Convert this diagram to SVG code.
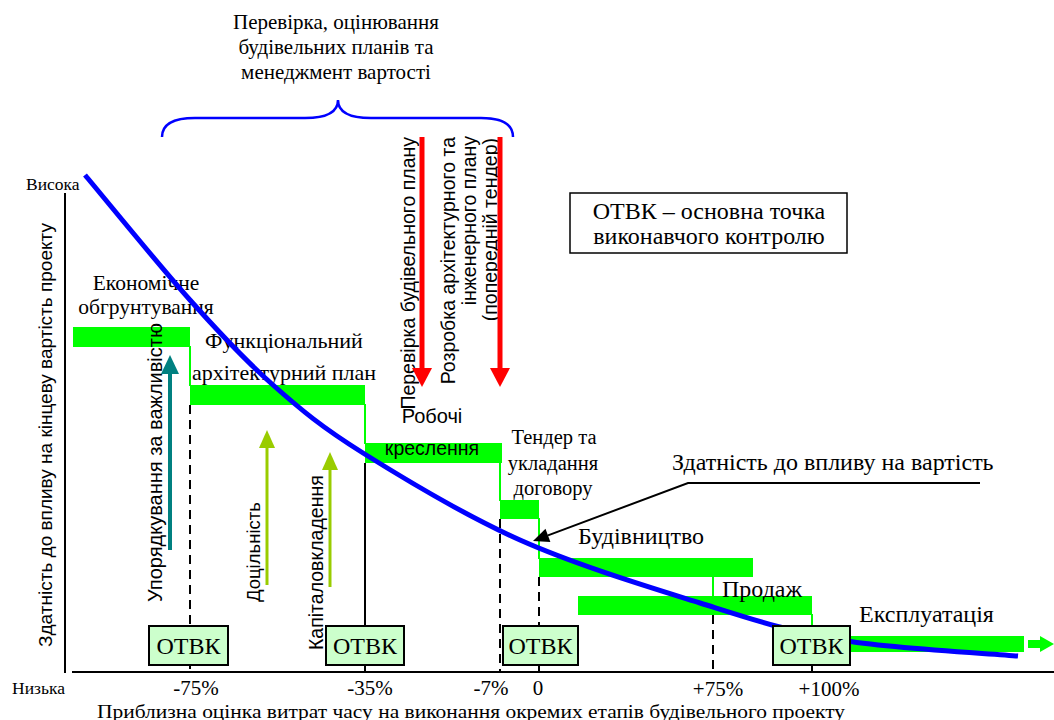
<svg xmlns="http://www.w3.org/2000/svg" width="1054" height="720" viewBox="0 0 1054 720">
<style>
.s{font-family:"Liberation Serif","Times New Roman",serif;fill:#000}
.a{font-family:"Liberation Sans",Arial,sans-serif;fill:#000}
.bar{fill:#00FF00}
.gl{stroke:#00FF00;stroke-width:2;fill:none}
.dash{stroke:#000;stroke-width:2;stroke-dasharray:9,6;fill:none}
.sol{stroke:#000;stroke-width:2;fill:none}
.box{fill:#CCFFCC;stroke:#000;stroke-width:2}
.red{stroke:#FF0000;stroke-width:5;fill:none}
</style>
<rect width="1054" height="720" fill="#fff"/>

<g id="axes">
  <line x1="65" y1="193" x2="65" y2="673" class="sol"/>
  <line x1="72" y1="672" x2="1054" y2="672" class="sol"/>
  <text x="26" y="190" class="s" font-size="17.5">Висока</text>
  <text x="12" y="694" class="s" font-size="17.5">Низька</text>
  <text transform="translate(52,435) rotate(-90)" text-anchor="middle" class="a" font-size="19">Здатність до впливу на кінцеву вартість проекту</text>
  <text x="471" y="718" text-anchor="middle" class="s" font-size="18.5" textLength="748" lengthAdjust="spacingAndGlyphs">Приблизна оцінка витрат часу на виконання окремих етапів будівельного проекту</text>
  <g class="s" font-size="21" text-anchor="middle">
    <text x="196" y="695">-75%</text>
    <text x="370" y="695">-35%</text>
    <text x="491" y="695">-7%</text>
    <text x="538" y="695">0</text>
    <text x="718" y="696">+75%</text>
    <text x="829" y="696">+100%</text>
  </g>
</g>

<g id="title">
  <g class="s" font-size="21" text-anchor="middle">
    <text x="336" y="29">Перевірка, оцінювання</text>
    <text x="336" y="54">будівельних планів та</text>
    <text x="336" y="79">менеджмент вартості</text>
  </g>
  <path d="M162,137 Q162,118 195,118 L305,118 Q338,118 338,100 Q338,118 371,118 L481,118 Q513,118 513,137" fill="none" stroke="#0000FF" stroke-width="2.5"/>
</g>

<g id="legend">
  <rect x="570" y="193" width="277" height="60" fill="#fff" stroke="#000" stroke-width="1.5"/>
  <text x="709" y="219" text-anchor="middle" class="s" font-size="24">ОТВК – основна точка</text>
  <text x="709" y="244" text-anchor="middle" class="s" font-size="24">виконавчого контролю</text>
</g>

<g id="guides">
  <line x1="190" y1="405" x2="190" y2="672" class="dash"/>
  <line x1="365" y1="463" x2="365" y2="672" class="sol"/>
  <line x1="500" y1="519" x2="500" y2="672" class="dash"/>
  <line x1="539" y1="577" x2="539" y2="626" class="dash"/>
  <line x1="539" y1="664" x2="539" y2="672" class="sol"/>
  <line x1="713" y1="615" x2="713" y2="672" class="dash"/>
  <line x1="812" y1="664" x2="812" y2="672" class="sol"/>
</g>

<g id="phase-economic">
  <rect x="73" y="327" width="117" height="20" class="bar"/>
  <line x1="190" y1="346" x2="190" y2="386" class="gl"/>
  <text x="146" y="290" text-anchor="middle" class="s" font-size="21.5">Економічне</text>
  <text x="146" y="314" text-anchor="middle" class="s" font-size="21.5">обгрунтування</text>
</g>
<g id="phase-functional">
  <rect x="190" y="385" width="175" height="20" class="bar"/>
  <line x1="365" y1="404" x2="365" y2="444" class="gl"/>
  <text x="284" y="348" text-anchor="middle" class="s" font-size="22">Функціональний</text>
  <text x="284" y="380" text-anchor="middle" class="s" font-size="22">архітектурний план</text>
</g>
<g id="phase-drawings">
  <rect x="365" y="443" width="137" height="20" class="bar"/>
  <line x1="500" y1="462" x2="500" y2="501" class="gl"/>
  <text x="432" y="423" text-anchor="middle" class="a" font-size="20">Робочі</text>
  <text x="432" y="455" text-anchor="middle" class="a" font-size="19.5">креслення</text>
</g>
<g id="phase-tender">
  <rect x="500" y="500" width="39" height="19" class="bar"/>
  <line x1="539" y1="518" x2="539" y2="559" class="gl"/>
  <text x="554" y="444" text-anchor="middle" class="s" font-size="20.5">Тендер та</text>
  <text x="553" y="470" text-anchor="middle" class="s" font-size="20.5">укладання</text>
  <text x="553" y="495" text-anchor="middle" class="s" font-size="20.5">договору</text>
</g>
<g id="phase-construction">
  <rect x="539" y="558" width="214" height="19" class="bar"/>
  <line x1="713" y1="576" x2="713" y2="597" class="gl"/>
  <text x="578" y="544" class="s" font-size="24">Будівництво</text>
</g>
<g id="phase-sale">
  <rect x="578" y="596" width="234" height="19" class="bar"/>
  <line x1="812" y1="614" x2="812" y2="627" class="gl"/>
  <text x="722" y="597" class="s" font-size="24">Продаж</text>
</g>
<g id="phase-operation">
  <rect x="812" y="636" width="212" height="16" class="bar"/>
  <rect x="1028" y="640" width="13" height="8" class="bar"/>
  <polygon points="1040,636 1054,644 1040,652" class="bar"/>
  <text x="859" y="622" class="s" font-size="24">Експлуатація</text>
</g>

<g id="curve">
  <path d="M85,175 C102.5,195.8 158.7,265 190,300 C221.3,335 244.2,359.5 273,385 C301.8,410.5 321.8,427.2 363,453 C404.2,478.8 463.8,515 520,540 C576.2,565 646.7,586.3 700,603 C753.3,619.7 787,631.2 840,640 C893,648.8 988.3,653.3 1018,656" fill="none" stroke="#0000FF" stroke-width="5"/>
  <text x="672" y="470" class="s" font-size="24">Здатність до впливу на вартість</text>
</g>

<g id="otvk-1"><rect x="149" y="626" width="79" height="39" class="box"/><text x="188.5" y="654" text-anchor="middle" class="s" font-size="24">ОТВК</text></g>
<g id="otvk-2"><rect x="326" y="626" width="78" height="39" class="box"/><text x="365" y="654" text-anchor="middle" class="s" font-size="24">ОТВК</text></g>
<g id="otvk-3"><rect x="503" y="626" width="75" height="39" class="box"/><text x="540.5" y="654" text-anchor="middle" class="s" font-size="24">ОТВК</text></g>
<g id="otvk-4"><rect x="773" y="626" width="77" height="39" class="box"/><text x="811.5" y="654" text-anchor="middle" class="s" font-size="24">ОТВК</text></g>

<g id="vertical-labels" class="a">
  <text transform="translate(162,602) rotate(-90)" font-size="20">Упорядкування за важливістю</text>
  <text transform="translate(260,602) rotate(-90)" font-size="18.5">Доцільність</text>
  <text transform="translate(323,650) rotate(-90)" font-size="19.5">Капіталовкладення</text>
  <g font-size="19.5" text-anchor="end">
    <text transform="translate(415,137) rotate(-90)">Перевірка будівельного плану</text>
    <text transform="translate(455,137) rotate(-90)">Розробка архітектурного та</text>
    <text transform="translate(476,136) rotate(-90)">інженерного плану</text>
    <text transform="translate(497,138) rotate(-90)">(попередній тендер)</text>
  </g>
</g>

<g id="connectors">
  <line x1="170" y1="550" x2="170" y2="372" stroke="#008080" stroke-width="4"/>
  <polygon points="161,374 179,374 170,355" fill="#008080"/>
  <line x1="267" y1="585" x2="267" y2="446" stroke="#99CC00" stroke-width="3"/>
  <polygon points="259,448 275,448 267,430" fill="#99CC00"/>
  <line x1="330" y1="587" x2="330" y2="468" stroke="#99CC00" stroke-width="3"/>
  <polygon points="322,470 338,470 330,452" fill="#99CC00"/>
  <line x1="422" y1="137" x2="422" y2="370" class="red"/>
  <polygon points="412,368 432,368 422,387" fill="#FF0000"/>
  <line x1="500" y1="137" x2="500" y2="370" class="red"/>
  <polygon points="490,368 510,368 500,387" fill="#FF0000"/>
  <polyline points="980,483 688,483 548,535.4" fill="none" stroke="#000" stroke-width="2"/>
  <polygon points="533,541 550.4,542 545.5,528.8" fill="#000"/>
</g>
</svg>
